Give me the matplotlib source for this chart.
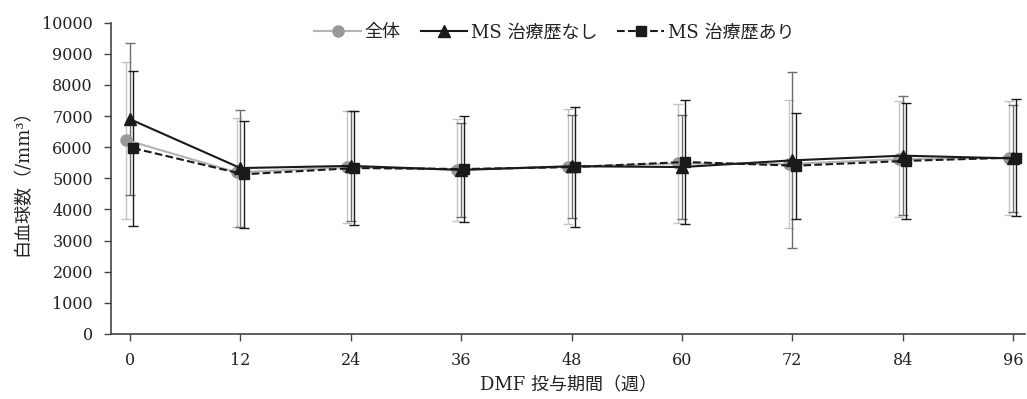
#!/usr/bin/env python3
"""
WBC count over DMF treatment period, mean +/- SD for three groups.
Saves plot as out.png
"""

import numpy as np
import matplotlib.pyplot as plt

weeks = [0, 12, 24, 36, 48, 60, 72, 84, 96]

all_mean = [6230, 5190, 5355, 5283, 5369, 5480, 5460, 5615, 5660]
all_sd = [2520, 1760, 1795, 1637, 1851, 1920, 2050, 1862, 1830]

naive_mean = [6900, 5330, 5400, 5270, 5390, 5363, 5578, 5729, 5640]
naive_sd = [2450, 1880, 1765, 1520, 1660, 1663, 2823, 1921, 1707]

prior_mean = [5970, 5130, 5330, 5300, 5363, 5525, 5407, 5561, 5668]
prior_sd = [2490, 1716, 1820, 1705, 1932, 1985, 1707, 1862, 1893]

labels = ["全体", "MS 治療歴なし", "MS 治療歴あり"]


def main():
    plt.rcParams['font.family'] = ['DejaVu Serif', 'Noto Sans CJK JP']

    fig = plt.figure(figsize=(10.27, 3.99), dpi=100)
    ax = fig.add_axes([111 / 1027, 65 / 399, 914 / 1027, 311.3 / 399])

    x = np.array(weeks, dtype=float)

    # (mean, sd, x offset, line color, line style, marker, marker color, bar color, size)
    series = [
        (all_mean, all_sd, -0.4, '#b4b4b4', '-', 'o', '#999999', '#c4c4c4', 8),
        (naive_mean, naive_sd, 0.0, '#1a1a1a', '-', '^', '#1a1a1a', '#6e6e6e', 8),
        (prior_mean, prior_sd, 0.35, '#1a1a1a', '--', 's', '#1a1a1a', '#1a1a1a', 7.5),
    ]

    for (m, sd, off, lc, ls, mk, mc, bc, ms), lab in zip(series, labels):
        ax.errorbar(x + off, m, yerr=sd, fmt='none', ecolor=bc, elinewidth=1.0,
                    capsize=3.5, capthick=1.0, zorder=2)
        ax.plot(x + off, m, color=lc, ls=ls, lw=1.5, marker=mk, ms=ms,
                mfc=mc, mec=mc, label=lab, zorder=3)

    ax.set_xlim(-2.07, 97.3)
    ax.set_ylim(0, 10000)
    ax.set_xticks(weeks)
    ax.set_yticks(np.arange(0, 10001, 1000))

    for s in ['top', 'right']:
        ax.spines[s].set_visible(False)
    for s in ['left', 'bottom']:
        ax.spines[s].set_color('#444444')
        ax.spines[s].set_linewidth(1.2)
    ax.tick_params(direction='out', length=5, width=1, color='#444444',
                   labelsize=11.5, labelcolor='#222222', pad=8)

    ax.set_xlabel('DMF 投与期間（週）', fontsize=13, color='#222222', labelpad=5)
    ax.set_ylabel('白血球数（/mm³）', fontsize=13, color='#222222', labelpad=8)

    ax.legend(loc='upper center', bbox_to_anchor=(0.485, 1.05), ncol=3,
              frameon=False, fontsize=13, handlelength=2.6, columnspacing=1.1,
              handletextpad=0.2, labelcolor='#222222')

    fig.savefig('out.png', dpi=100)
    plt.close(fig)


if __name__ == '__main__':
    main()
